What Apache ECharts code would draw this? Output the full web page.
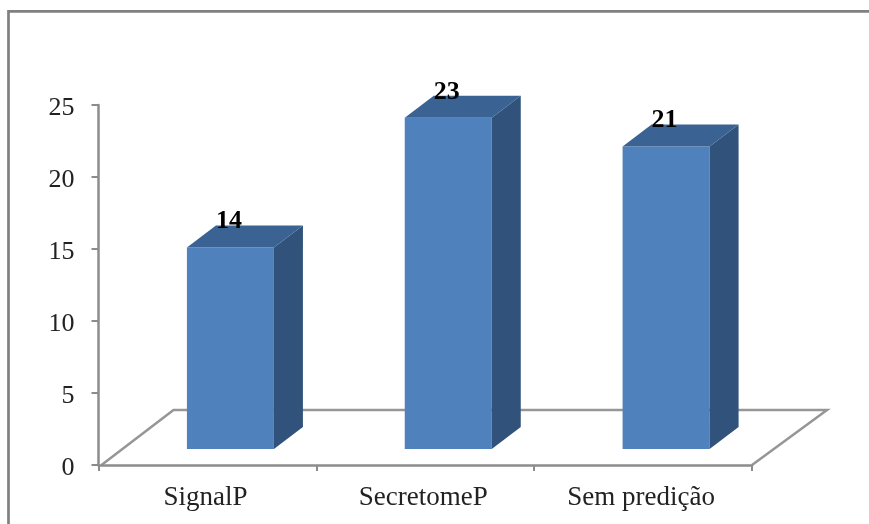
<!DOCTYPE html>
<html><head><meta charset="utf-8">
<style>html,body{margin:0;padding:0;background:#fff;overflow:hidden}#c{width:869px;height:524px}</style>
<script src="https://cdn.jsdelivr.net/npm/echarts@6/dist/echarts.min.js"></script>
</head><body><div id="c"></div>
<script>
const categories = ['SignalP', 'SecretomeP', 'Sem predição'];
const values = [14, 23, 21];
const yTicks = [0, 5, 10, 15, 20, 25];

const FONT = '"Liberation Serif", "Times New Roman", serif';
const GRID = { left: 98.5, top: 105, width: 653.5, height: 360 };
const DEPTH = { x: 29, y: 22 };
const FLOOR = { x: 72, y: 55, inset: 3 };
const BAR = { width: 87, shiftX: 23, shiftY: 16 };

const chart = echarts.init(document.getElementById('c'), null, { renderer: 'canvas' });

function poly(points, fill) {
  return { type: 'polygon', shape: { points }, style: { fill, stroke: null } };
}

chart.setOption({
  animation: false,
  backgroundColor: '#fff',
  graphic: [{
    type: 'rect', silent: true, z: 0,
    shape: { x: 8.5, y: 11.3, width: 900, height: 600 },
    style: { fill: '#fff', stroke: '#808080', lineWidth: 2.7 }
  }],
  grid: GRID,
  xAxis: {
    type: 'category', data: categories,
    axisLine: { lineStyle: { color: '#8c8c8c', width: 2.5 } },
    axisTick: { show: true, alignWithLabel: false, length: 6, lineStyle: { color: '#8c8c8c', width: 2 } },
    axisLabel: { color: '#222', fontFamily: FONT, fontSize: 27, margin: 19, padding: [0, 4, 0, 0] },
    z: 3
  },
  yAxis: {
    type: 'value', min: 0, max: 25, interval: 5,
    axisLine: { show: true, lineStyle: { color: '#8c8c8c', width: 2.5 } },
    axisTick: { show: true, length: 7, lineStyle: { color: '#8c8c8c', width: 2 } },
    axisLabel: { margin: 24,
      formatter: v => yTicks.includes(v) ? '{n|' + v + '}' : '',
      rich: { n: { color: '#222', fontFamily: FONT, fontSize: 26, padding: [6, 0, 0, 0] } } },
    splitLine: { show: false }
  },
  series: [
    {
      type: 'custom', coordinateSystem: 'cartesian2d', z: 1, silent: true,
      data: [[0, 0]], encode: { x: 0, y: 1 },
      renderItem(params) {
        const c = params.coordSys;
        const b = c.y + c.height;
        const pts = [
          [c.x + FLOOR.inset, b],
          [c.x + FLOOR.inset + FLOOR.x, b - FLOOR.y],
          [c.x + c.width + FLOOR.x + 3, b - FLOOR.y],
          [c.x + c.width, b]
        ];
        return { type: 'polyline', shape: { points: [pts[3], pts[2], pts[1], pts[0]] },
          style: { fill: null, stroke: '#969696', lineWidth: 2.5 } };
      }
    },
    {
      type: 'custom', coordinateSystem: 'cartesian2d', z: 2,
      data: values.map((v, i) => [i, v]), encode: { x: 0, y: 1 },
      renderItem(params, api) {
        const p = api.coord([api.value(0), api.value(1)]);
        const z = api.coord([api.value(0), 0]);
        const l = p[0] + BAR.shiftX - BAR.width / 2, r = l + BAR.width;
        const t = p[1] - BAR.shiftY, b = z[1] - BAR.shiftY;
        const dx = DEPTH.x, dy = DEPTH.y;
        return { type: 'group', children: [
          poly([[l, b], [r, b], [r, t], [l, t]], '#4f81bd'),
          poly([[r, b], [r + dx, b - dy], [r + dx, t - dy], [r, t]], '#31527a'),
          poly([[l, t], [r, t], [r + dx, t - dy], [l + dx, t - dy]], '#3a6394'),
          { type: 'text', z2: 10, style: {
              text: String(api.value(1)), x: (l + r) / 2 - 1.5, y: t - dy - 4,
              align: 'center', verticalAlign: 'middle',
              fill: '#000', font: 'bold 26px ' + FONT } }
        ] };
      }
    }
  ]
});
</script></body></html>
